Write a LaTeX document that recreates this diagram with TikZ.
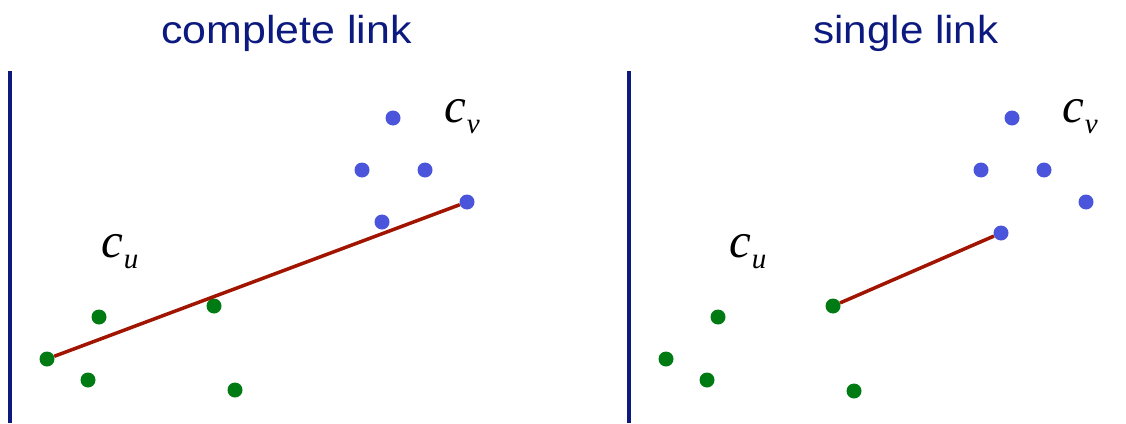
\documentclass[tikz,border=0pt]{standalone}
\usepackage{fontspec}
\usepackage{graphicx}
\usepackage{xcolor}
\newfontfamily\titlefont{Liberation Sans}
\newfontfamily\labelfont{Liberation Serif}
\definecolor{navy}{RGB}{12,26,128}
\definecolor{ptblue}{RGB}{74,85,220}
\definecolor{ptgreen}{RGB}{0,122,18}
\definecolor{linkred}{RGB}{160,20,0}
\newcommand{\clab}[1]{{\labelfont\itshape\fontsize{49}{50}\selectfont c\kern1pt\raisebox{-11pt}{\fontsize{29}{30}\selectfont #1}}}

\begin{document}
\begin{tikzpicture}[x=1pt, y=-1pt,
  gdot/.style={circle, fill=ptgreen, inner sep=0pt, minimum size=15pt},
  bdot/.style={circle, fill=ptblue, inner sep=0pt, minimum size=15pt},
  link/.style={draw=linkred, line width=3.5pt},
  divider/.style={draw=navy, line width=3.5pt},
  title/.style={anchor=base, inner sep=0pt, text=navy, font=\titlefont\fontsize{39}{44}\selectfont},
  clabel/.style={anchor=base west, inner sep=0pt}]
  \useasboundingbox (0,0) rectangle (1126,423);
  % complete link
  \node[title] (tcomplete) at (286.5,43) {\scalebox{1.1}[1]{complete link}};
  \coordinate (dtopA) at (10,71);
  \coordinate (dbotA) at (10,423);
  \draw[divider] (dtopA) -- (dbotA);
  \node[gdot] (ua1) at (47,359) {};
  \node[gdot] (ua2) at (99,317) {};
  \node[gdot] (ua3) at (88,380) {};
  \node[gdot] (ua4) at (214,306) {};
  \node[gdot] (ua5) at (235,390) {};
  \node[bdot] (va1) at (393,118) {};
  \node[bdot] (va2) at (362,170) {};
  \node[bdot] (va3) at (425,170) {};
  \node[bdot] (va4) at (382,222) {};
  \node[bdot] (va5) at (467,202) {};
  \node[clabel] (cua) at (101,257) {\clab{u}};
  \node[clabel] (cva) at (444,122) {\clab{v}};
  \draw[link] (ua1) -- (va5);
  % single link
  \node[title] (tsingle) at (906,43) {\scalebox{1.08}[1]{single link}};
  \coordinate (dtopB) at (629,71);
  \coordinate (dbotB) at (629,423);
  \draw[divider] (dtopB) -- (dbotB);
  \node[gdot] (ub1) at (666,359) {};
  \node[gdot] (ub2) at (718,317) {};
  \node[gdot] (ub3) at (707,380) {};
  \node[gdot] (ub4) at (833,306) {};
  \node[gdot] (ub5) at (854,391) {};
  \node[bdot] (vb1) at (1012,118) {};
  \node[bdot] (vb2) at (981,170) {};
  \node[bdot] (vb3) at (1044,170) {};
  \node[bdot] (vb4) at (1086,202) {};
  \node[bdot] (vb5) at (1001,233) {};
  \node[clabel] (cub) at (729,257) {\clab{u}};
  \node[clabel] (cvb) at (1062,122) {\clab{v}};
  \draw[link] (ub4) -- (vb5);
\end{tikzpicture}
\end{document}
